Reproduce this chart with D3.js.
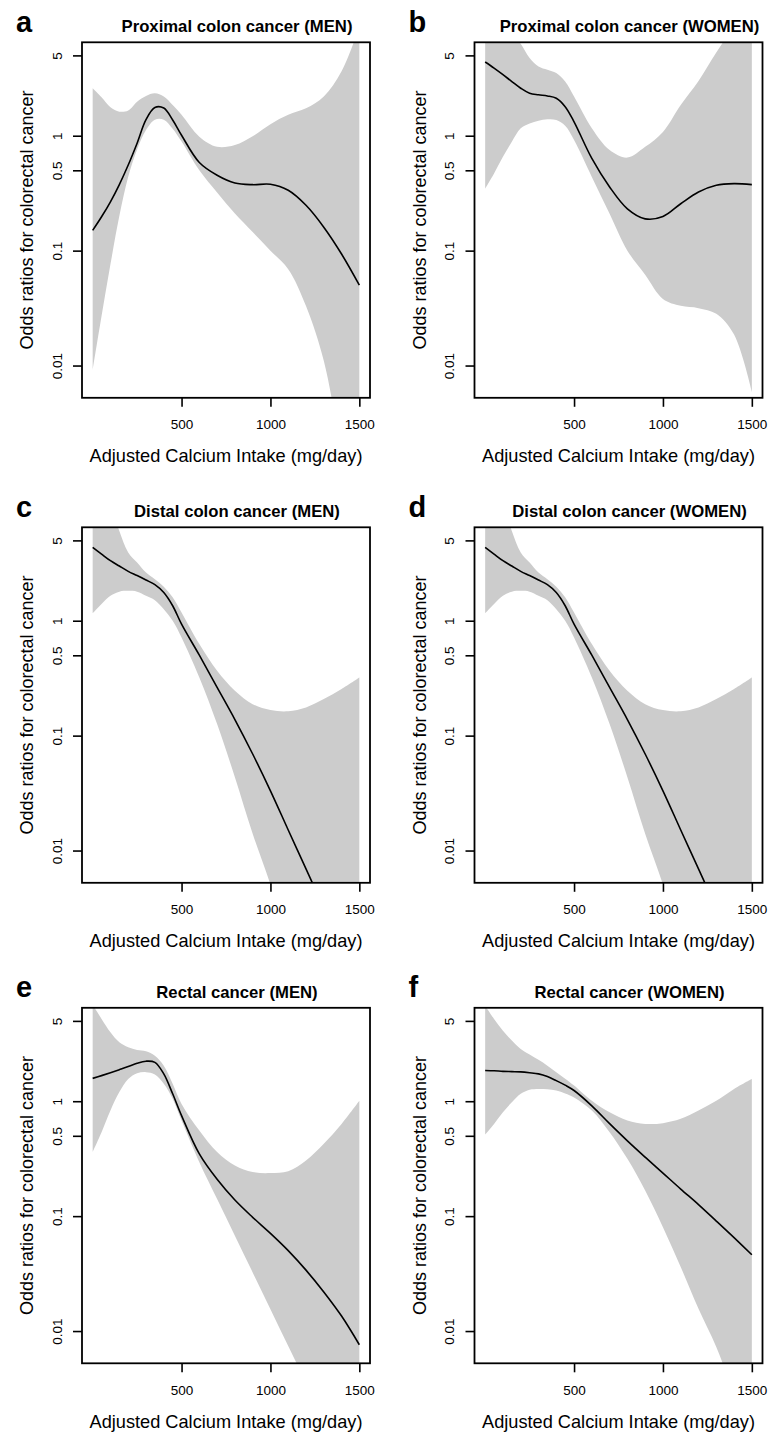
<!DOCTYPE html>
<html>
<head>
<meta charset="utf-8">
<script src="https://cdn.jsdelivr.net/npm/d3@7"></script>
<style>
  html, body { margin: 0; padding: 0; background: #fff; }
  svg { display: block; }
  text { font-family: "Liberation Sans", Arial, Helvetica, sans-serif; fill: #000; }
</style>
</head>
<body>
<svg id="chart" width="769" height="1434"></svg>
<script>
// ---- Data ----
const calcium = [0, 50, 100, 150, 200, 250, 300, 350, 400, 450, 500, 600, 700, 800, 900, 1000, 1100, 1200, 1300, 1400, 1500];

const xTickValues = [500, 1000, 1500];
const yTickValues = [0.01, 0.1, 0.5, 1, 5];
const yTickLabels = ["0.01", "0.1", "0.5", "1", "5"];

const panelLetters = ["a", "b", "c", "d", "e", "f"];
const panelTitles = [
  "Proximal colon cancer (MEN)", "Proximal colon cancer (WOMEN)",
  "Distal colon cancer (MEN)", "Distal colon cancer (WOMEN)",
  "Rectal cancer (MEN)", "Rectal cancer (WOMEN)"
];
const xAxisTitle = "Adjusted Calcium Intake (mg/day)";
const yAxisTitle = "Odds ratios for colorectal cancer";

// a: Proximal colon, men
const fitA   = [0.150, 0.197, 0.266, 0.376, 0.556, 0.861, 1.38, 1.76, 1.74, 1.37, 1.01, 0.585, 0.453, 0.388, 0.375, 0.378, 0.335, 0.248, 0.160, 0.0935, 0.0501];
const upperA = [2.59, 2.16, 1.77, 1.62, 1.66, 1.98, 2.22, 2.34, 2.19, 1.85, 1.52, 0.98, 0.80, 0.83, 0.99, 1.26, 1.52, 1.73, 2.19, 3.63, 8.9];
const lowerA = [0.0091, 0.027, 0.076, 0.20, 0.44, 0.76, 1.12, 1.38, 1.38, 1.15, 0.89, 0.50, 0.32, 0.21, 0.145, 0.100, 0.069, 0.033, 0.011, 0.0016, 0.00016];

// b: Proximal colon, women
const fitB   = [4.38, 3.88, 3.40, 2.96, 2.59, 2.34, 2.27, 2.22, 2.12, 1.79, 1.32, 0.634, 0.358, 0.231, 0.189, 0.198, 0.256, 0.324, 0.371, 0.383, 0.375];
const upperB = [20, 14.1, 10, 7.9, 6.3, 4.74, 4.01, 3.75, 3.51, 2.96, 2.19, 1.16, 0.75, 0.645, 0.80, 1.08, 1.85, 3.0, 5.3, 9.0, 15.0];
const lowerB = [0.346, 0.469, 0.655, 0.887, 1.16, 1.28, 1.35, 1.39, 1.37, 1.22, 0.916, 0.438, 0.209, 0.100, 0.0617, 0.0380, 0.0331, 0.0316, 0.0282, 0.0186, 0.0059];

// c: Distal colon, men
const fitC   = [4.35, 3.80, 3.33, 2.99, 2.69, 2.47, 2.26, 2.06, 1.76, 1.35, 0.933, 0.501, 0.263, 0.138, 0.0692, 0.0331, 0.0151, 0.00692, 0.00316, 0.00141, 0.00063];
const upperC = [28.2, 17.8, 10.5, 6.03, 3.93, 3.21, 2.63, 2.30, 1.98, 1.60, 1.18, 0.627, 0.367, 0.246, 0.188, 0.167, 0.163, 0.176, 0.208, 0.255, 0.321];
const lowerC = [1.16, 1.40, 1.65, 1.79, 1.82, 1.79, 1.65, 1.51, 1.26, 1.00, 0.716, 0.321, 0.126, 0.0435, 0.0140, 0.00506, 0.00158, 0.0005, 0.000158, 0.00005, 0.000016];

// d: Distal colon, women
const fitD   = [4.35, 3.80, 3.33, 2.99, 2.69, 2.47, 2.26, 2.06, 1.76, 1.35, 0.933, 0.501, 0.263, 0.138, 0.0692, 0.0331, 0.0151, 0.00692, 0.00316, 0.00141, 0.00063];
const upperD = [28.2, 17.8, 10.5, 6.03, 3.93, 3.21, 2.63, 2.30, 1.98, 1.60, 1.18, 0.627, 0.367, 0.246, 0.188, 0.167, 0.163, 0.176, 0.208, 0.255, 0.321];
const lowerD = [1.16, 1.40, 1.65, 1.79, 1.82, 1.79, 1.65, 1.51, 1.26, 1.00, 0.716, 0.321, 0.126, 0.0435, 0.0140, 0.00506, 0.00158, 0.0005, 0.000158, 0.00005, 0.000016];

// e: Rectal, men
const fitE   = [1.58, 1.67, 1.77, 1.88, 2.00, 2.14, 2.23, 2.18, 1.73, 1.16, 0.750, 0.348, 0.209, 0.138, 0.0977, 0.0708, 0.0501, 0.0339, 0.0219, 0.0135, 0.0076];
const upperE = [6.92, 5.20, 3.98, 3.26, 2.95, 2.79, 2.72, 2.49, 2.04, 1.42, 0.948, 0.556, 0.361, 0.276, 0.242, 0.237, 0.246, 0.305, 0.426, 0.635, 1.01];
const lowerE = [0.361, 0.537, 0.830, 1.20, 1.56, 1.75, 1.79, 1.71, 1.42, 1.05, 0.679, 0.295, 0.141, 0.0676, 0.0324, 0.0155, 0.0074, 0.00355, 0.00166, 0.00079, 0.0004];

// f: Rectal, women
const fitF   = [1.85, 1.84, 1.82, 1.81, 1.80, 1.77, 1.73, 1.64, 1.51, 1.38, 1.24, 0.912, 0.638, 0.452, 0.326, 0.237, 0.172, 0.126, 0.0906, 0.0649, 0.0461];
const upperF = [6.76, 5.20, 4.11, 3.37, 2.85, 2.55, 2.29, 2.04, 1.79, 1.57, 1.37, 1.01, 0.80, 0.679, 0.635, 0.644, 0.702, 0.830, 1.01, 1.28, 1.56];
const lowerF = [0.513, 0.635, 0.802, 0.980, 1.16, 1.26, 1.28, 1.27, 1.24, 1.17, 1.08, 0.830, 0.537, 0.315, 0.167, 0.0802, 0.0361, 0.0156, 0.00726, 0.00282, 0.00112];

const fits = [fitA, fitB, fitC, fitD, fitE, fitF];
const uppers = [upperA, upperB, upperC, upperD, upperE, upperF];
const lowers = [lowerA, lowerB, lowerC, lowerD, lowerE, lowerF];

const xDomain = [-60, 1560];
const yDomain = [0.00524, 6.50];

// ---- Layout ----
const colLeft = [82, 474.5];
const rowTop = [42.3, 527.3, 1007.8];
const plotW = 288, plotH = 355.5;

const svg = d3.select("#chart");
svg.append("rect").attr("width", 769).attr("height", 1434).attr("fill", "#fff");

panelTitles.forEach((title, i) => {
  const col = i % 2, row = Math.floor(i / 2);
  const L = colLeft[col], T = rowTop[row];
  const x = d3.scaleLinear().domain(xDomain).range([L, L + plotW]);
  const y = d3.scaleLog().domain(yDomain).range([T + plotH, T]);

  const g = svg.append("g");
  const clipId = "clip" + i;
  svg.append("clipPath").attr("id", clipId)
    .append("rect").attr("x", L).attr("y", T).attr("width", plotW).attr("height", plotH);

  const rows = calcium.map((c, k) => ({ c, fit: fits[i][k], lo: lowers[i][k], hi: uppers[i][k] }));

  const area = d3.area()
    .x(d => x(d.c)).y0(d => y(d.lo)).y1(d => y(d.hi))
    .curve(d3.curveCatmullRom.alpha(0.5));
  const line = d3.line()
    .x(d => x(d.c)).y(d => y(d.fit))
    .curve(d3.curveCatmullRom.alpha(0.5));

  const inner = g.append("g").attr("clip-path", `url(#${clipId})`);
  inner.append("path").datum(rows).attr("d", area).attr("fill", "#cccccc").attr("stroke", "none");
  inner.append("path").datum(rows).attr("d", line).attr("fill", "none")
    .attr("stroke", "#000").attr("stroke-width", 1.6);

  // axes
  const yAxis = d3.axisLeft(y).tickValues(yTickValues)
    .tickFormat((d, k) => yTickLabels[k]).tickSize(9).tickSizeOuter(0);
  const ya = g.append("g").attr("transform", `translate(${L},0)`).call(yAxis);
  ya.select(".domain").remove();
  ya.selectAll("line").attr("stroke", "#000").attr("stroke-width", 1.6);
  ya.selectAll("text")
    .attr("x", null).attr("y", null).attr("dy", null)
    .attr("transform", "translate(-20.5,0) rotate(-90)")
    .attr("text-anchor", "middle")
    .style("font-size", "13.5px").style("font-family", null);

  const xAxis = d3.axisBottom(x).tickValues(xTickValues).tickFormat(d3.format("d"))
    .tickSize(9).tickSizeOuter(0);
  const xa = g.append("g").attr("transform", `translate(0,${T + plotH})`).call(xAxis);
  xa.select(".domain").remove();
  xa.selectAll("line").attr("stroke", "#000").attr("stroke-width", 1.6);
  xa.selectAll("text").attr("y", 31.5).attr("dy", null)
    .style("font-size", "13.5px").style("font-family", null);
  ya.attr("font-family", null).attr("font-size", null);
  xa.attr("font-family", null).attr("font-size", null);

  // box
  g.append("rect").attr("x", L).attr("y", T).attr("width", plotW).attr("height", plotH)
    .attr("fill", "none").attr("stroke", "#000").attr("stroke-width", 1.8);

  // titles
  g.append("text").attr("x", L + plotW / 2 + 11).attr("y", T - 10)
    .attr("text-anchor", "middle").style("font-weight", "bold").style("font-size", "16.7px")
    .text(title);
  g.append("text").attr("x", L - 66).attr("y", T - 10.5)
    .style("font-weight", "bold").style("font-size", "29px")
    .text(panelLetters[i]);
  g.append("text").attr("x", L + plotW / 2).attr("y", T + plotH + 64.5)
    .attr("text-anchor", "middle").style("font-size", "18.2px")
    .text(xAxisTitle);
  g.append("text")
    .attr("transform", `translate(${L - 49},${T + plotH / 2}) rotate(-90)`)
    .attr("text-anchor", "middle").style("font-size", "18px")
    .text(yAxisTitle);
});
</script>
</body>
</html>
